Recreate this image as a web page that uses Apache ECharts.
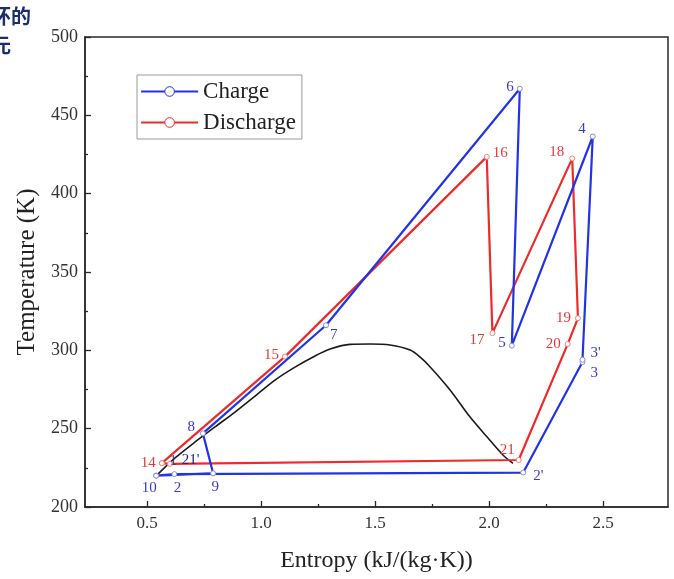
<!DOCTYPE html>
<html>
<head>
<meta charset="utf-8">
<script src="https://cdn.jsdelivr.net/npm/echarts@6/dist/echarts.min.js"></script>
<style>
html,body{margin:0;padding:0;background:#fff;}
#chart{width:674px;height:579px;}
</style>
</head>
<body>
<div id="chart"></div>
<script>
// ---- data ----
var chargeLabels = ['10', '2', "2'", '3', "3'", '4', '5', '6', '7', '8', '9', '10'];
var chargeS = [0.54, 0.62, 2.15, 2.41, 2.41, 2.455, 2.10, 2.135, 1.285, 0.745, 0.79, 0.54];
var chargeT = [220, 221, 222, 292.5, 294, 436.5, 303, 467, 316, 247, 221.5, 220];

var dischargeLabels = ['14', '15', '16', '17', '18', '19', '20', '21', "21'", '14'];
var dischargeS = [0.565, 1.105, 1.99, 2.015, 2.365, 2.39, 2.345, 2.13, 0.60, 0.565];
var dischargeT = [228, 296, 423.5, 311, 422.5, 320.5, 304, 230, 227.5, 228];

var domeS = [0.535, 0.623, 0.711, 0.798, 0.886, 0.974, 1.061, 1.149, 1.237, 1.303, 1.390, 1.478, 1.566, 1.654, 1.697, 1.741, 1.829, 1.917, 1.991, 2.061, 2.105];
var domeT = [219.1, 231.3, 241.5, 251.1, 260.6, 270.8, 281.0, 289.3, 296.4, 300.8, 303.8, 304.0, 303.4, 300.2, 295.8, 289.5, 274.7, 257.4, 244.8, 233.2, 227.9];

var extraLabelS = [0.615];
var extraLabelT = [229.5];
var extraLabelText = ['1'];

var xTicks = [0.5, 1.0, 1.5, 2.0, 2.5];
var xMinorTicks = [0.75, 1.25, 1.75, 2.25];

// ---- label placement (style only) ----
var chargeLabelPos = [
  {position:'bottom', offset:[-7,-1]},
  {position:'bottom', offset:[3,0]},
  {position:'right', offset:[4,4]},
  {position:'right', offset:[2,11]},
  {position:'right', offset:[2,-7]},
  {position:'left', offset:[-1,-7]},
  {position:'left', offset:[0,-3]},
  {position:'left', offset:[0,-2]},
  {position:'right', offset:[-2,10]},
  {position:'left', offset:[-2,-6]},
  {position:'bottom', offset:[2,0]},
  {show:false}
];
var dischargeLabelPos = [
  {position:'left', offset:[0,0]},
  {position:'left', offset:[0,-2]},
  {position:'right', offset:[0,-4]},
  {position:'left', offset:[-2,7]},
  {position:'left', offset:[-2,-6]},
  {position:'left', offset:[-1,0]},
  {position:'left', offset:[-1,0]},
  {position:'left', offset:[2,-10]},
  {position:'right', offset:[6,-4], color:'#26266e'},
  {show:false}
];

function buildSeriesData(sArr, tArr, labels, pos) {
  return sArr.map(function (s, i) {
    var p = pos[i];
    var lab = {show: p.show !== false, formatter: labels[i]};
    if (p.position) lab.position = p.position;
    if (p.offset) lab.offset = p.offset;
    if (p.color) lab.color = p.color;
    return {value: [s, tArr[i]], label: lab};
  });
}

var serif = 'Liberation Serif, Times New Roman, serif';
var BLUE = '#2233e6';
var RED = '#ee2a2a';

var chart = echarts.init(document.getElementById('chart'), null, {renderer: 'canvas'});

var option = {
  backgroundColor: '#ffffff',
  animation: false,
  grid: {
    left: 85, right: 6, top: 37, bottom: 72,
    show: true, borderColor: '#2a2a2a', borderWidth: 1.5,
    outerBoundsMode: 'none'
  },
  legend: {
    left: 137, top: 75,
    orient: 'vertical',
    itemWidth: 57, itemHeight: 12, itemGap: 8,
    padding: [5, 6, 5, 3],
    borderColor: '#9a9a9a', borderWidth: 1,
    textStyle: {fontFamily: serif, fontSize: 23, color: '#222'}
  },
  xAxis: [{
    type: 'value', min: 0.228, max: 2.785,
    name: 'Entropy (kJ/(kg·K))', nameLocation: 'middle', nameGap: 42,
    nameTextStyle: {fontFamily: serif, fontSize: 24, color: '#222'},
    axisLine: {show: true, lineStyle: {color: '#2a2a2a', width: 1.5}},
    axisTick: {show: true, inside: true, length: 6, customValues: xTicks, lineStyle: {color: '#2a2a2a', width: 1.3}},
    axisLabel: {customValues: xTicks, margin: 8, fontFamily: serif, fontSize: 17, color: '#333',
      formatter: function (v) { return Number(v).toFixed(1); }},
    splitLine: {show: false}
  }, {
    type: 'value', min: 0.228, max: 2.785, position: 'bottom',
    axisLine: {show: false},
    axisTick: {show: true, inside: true, length: 3, customValues: xMinorTicks, lineStyle: {color: '#2a2a2a', width: 1.3}},
    axisLabel: {show: false},
    splitLine: {show: false}
  }],
  yAxis: {
    type: 'value', min: 200, max: 500, interval: 50,
    name: 'Temperature (K)', nameLocation: 'middle', nameGap: 45,
    nameTextStyle: {fontFamily: serif, fontSize: 25, color: '#222'},
    axisLine: {show: true, lineStyle: {color: '#2a2a2a', width: 1.5}},
    axisTick: {show: true, inside: true, length: 6, lineStyle: {color: '#2a2a2a', width: 1.3}},
    minorTick: {show: true, splitNumber: 2, length: 3, lineStyle: {color: '#2a2a2a', width: 1.3}},
    axisLabel: {margin: 7, fontFamily: serif, fontSize: 18, color: '#333'},
    splitLine: {show: false}
  },
  series: [
    {
      name: 'Dome', type: 'line', smooth: 0.3, symbol: 'none',
      data: domeS.map(function (s, i) { return [s, domeT[i]]; }),
      lineStyle: {color: '#1a1a1a', width: 1.6},
      z: 1
    },
    {
      name: 'Discharge', type: 'line', symbol: 'circle', symbolSize: 5,
      data: buildSeriesData(dischargeS, dischargeT, dischargeLabels, dischargeLabelPos),
      lineStyle: {color: RED, width: 2.2},
      itemStyle: {color: '#ffffff', borderColor: '#f08080', borderWidth: 1},
      label: {show: true, fontFamily: serif, fontSize: 15, color: '#e23a3a', distance: 3},
      z: 3
    },
    {
      name: 'Charge', type: 'line', symbol: 'circle', symbolSize: 5,
      data: buildSeriesData(chargeS, chargeT, chargeLabels, chargeLabelPos),
      lineStyle: {color: BLUE, width: 2.2},
      itemStyle: {color: '#ffffff', borderColor: '#8a8ad8', borderWidth: 1},
      label: {show: true, fontFamily: serif, fontSize: 15, color: '#3a3ad0', distance: 3},
      z: 4
    },
    {
      name: 'extra', type: 'scatter', symbolSize: 0,
      data: extraLabelS.map(function (s, i) { return {value: [s, extraLabelT[i]], name: extraLabelText[i]}; }),
      label: {show: true, position: 'inside', formatter: function (p) { return p.name; },
        fontFamily: serif, fontSize: 15, color: '#26266e'},
      z: 5
    }
  ],
  graphic: [
    {type: 'text', left: -9, top: 6, style: {text: '环的', fontSize: 20, fontWeight: 'bold', fill: '#1d2d6b', fontFamily: 'Noto Sans CJK SC'}},
    {type: 'text', left: -9, top: 35, style: {text: '元', fontSize: 20, fontWeight: 'bold', fill: '#1d2d6b', fontFamily: 'Noto Sans CJK SC'}}
  ]
};

option.legend.data = [
  {name: 'Charge', itemStyle: {color: '#fff', borderColor: BLUE, borderWidth: 1}, lineStyle: {color: BLUE, width: 2.2}},
  {name: 'Discharge', itemStyle: {color: '#fff', borderColor: RED, borderWidth: 1}, lineStyle: {color: RED, width: 2.2}}
];

chart.setOption(option);
</script>
</body>
</html>
